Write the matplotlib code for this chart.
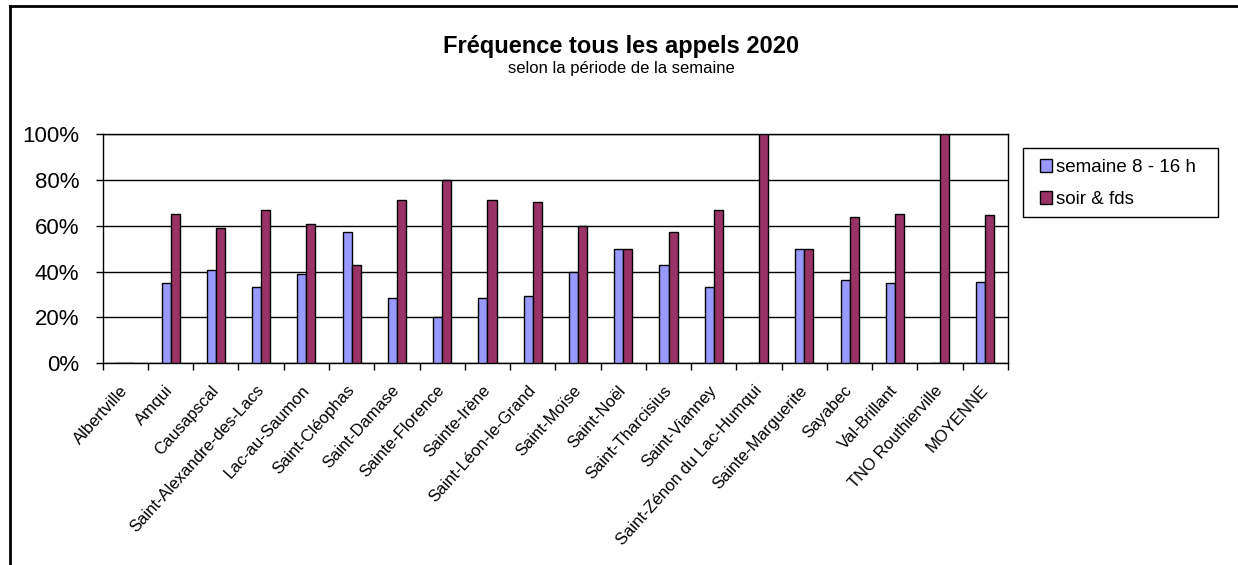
import matplotlib
matplotlib.use("Agg")
import matplotlib.pyplot as plt
import matplotlib.transforms as mtransforms
from matplotlib.lines import Line2D
from matplotlib.patches import Rectangle
import numpy as np

plt.rcParams['font.family'] = ['Liberation Sans', 'DejaVu Sans']

categories = ["Albertville", "Amqui", "Causapscal", "Saint-Alexandre-des-Lacs",
              "Lac-au-Saumon", "Saint-Cléophas", "Saint-Damase", "Sainte-Florence",
              "Sainte-Irène", "Saint-Léon-le-Grand", "Saint-Moïse", "Saint-Noël",
              "Saint-Tharcisius", "Saint-Vianney", "Saint-Zénon du Lac-Humqui",
              "Sainte-Marguerite", "Sayabec", "Val-Brillant", "TNO Routhierville",
              "MOYENNE"]
semaine = [0.0, 0.349, 0.408, 0.333, 0.391, 0.571, 0.286, 0.20, 0.286, 0.295,
           0.40, 0.50, 0.429, 0.333, 0.0, 0.50, 0.363, 0.349, 0.0, 0.355]
soir = [0.0, 0.651, 0.592, 0.667, 0.609, 0.429, 0.714, 0.80, 0.714, 0.705,
        0.60, 0.50, 0.571, 0.667, 1.0, 0.50, 0.637, 0.651, 1.0, 0.645]
yticks = [0, 0.2, 0.4, 0.6, 0.8, 1.0]
ytick_labels = ["0%", "20%", "40%", "60%", "80%", "100%"]
series_names = ["semaine 8 - 16 h", "soir & fds"]
colors = ["#9999FF", "#993366"]

W, H = 1238, 565
fig = plt.figure(figsize=(W / 100, H / 100), dpi=100)
ax = fig.add_axes([102.7 / W, 1 - 363.3 / H, (1008 - 102.7) / W, (363.3 - 134) / H])

x = np.arange(len(categories))
bw = 0.2
ax.bar(x - bw / 2, semaine, bw, color=colors[0], edgecolor="black", linewidth=1.0, zorder=3,
       label=series_names[0])
ax.bar(x + bw / 2, soir, bw, color=colors[1], edgecolor="black", linewidth=1.0, zorder=3,
       label=series_names[1])

ax.set_xlim(-0.5, len(categories) - 0.5)
ax.set_ylim(0, 1.0)
ax.set_yticks(yticks)
ax.set_yticklabels(ytick_labels, fontsize=16)
ax.tick_params(axis='y', direction='out', length=5, width=1, pad=12)
ax.yaxis.grid(True, color='black', linewidth=1, zorder=0)
ax.set_axisbelow(True)

ax.set_xticks(x)
ax.set_xticklabels(categories, fontsize=12, rotation=48, ha='right', va='top',
                   rotation_mode='anchor')
ax.tick_params(axis='x', length=0, pad=14)
offset = mtransforms.ScaledTranslation(-4 / 72, 0, fig.dpi_scale_trans)
for lbl in ax.get_xticklabels():
    lbl.set_transform(lbl.get_transform() + offset)
ax.set_xticks(np.arange(-0.5, len(categories)), minor=True)
ax.tick_params(axis='x', which='minor', direction='out', length=5, width=1)

for s in ax.spines.values():
    s.set_color('black')
    s.set_linewidth(1)

fig.text(0.5 + 2 / W, 1 - 46 / H, "Fréquence tous les appels 2020", ha='center', va='center',
         fontsize=17, fontweight='bold')
fig.text(0.5 + 2 / W, 1 - 68 / H, "selon la période de la semaine", ha='center', va='center',
         fontsize=12)

# legend frame drawn separately for exact padding
fig.add_artist(Rectangle((1023 / W, 1 - 217 / H), (1218 - 1023) / W, (217 - 148) / H,
                         transform=fig.transFigure, facecolor='white', edgecolor='black',
                         linewidth=1, zorder=4))
leg = fig.legend(loc='upper left', bbox_to_anchor=(1040 / W, 1 - 159 / H), fontsize=13.5,
                 frameon=False, handlelength=0.65, handleheight=0.65, handletextpad=0.2,
                 borderpad=0, labelspacing=0.8, borderaxespad=0)
leg.set_zorder(5)

# outer frame (top and left)
fig.add_artist(Line2D([9.5 / W, 1], [1 - 5.5 / H, 1 - 5.5 / H], color='black', linewidth=2,
                      transform=fig.transFigure))
fig.add_artist(Line2D([9.5 / W, 9.5 / W], [0, 1 - 5.5 / H], color='black', linewidth=2,
                      transform=fig.transFigure))

fig.savefig("out.png", dpi=100)
